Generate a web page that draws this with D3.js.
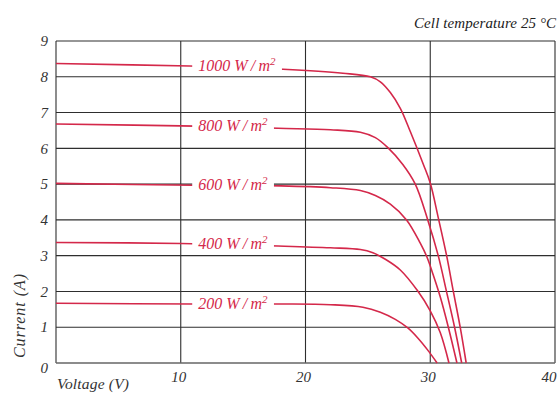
<!DOCTYPE html>
<html>
<head>
<meta charset="utf-8">
<script src="https://cdn.jsdelivr.net/npm/d3@7/dist/d3.min.js"></script>
<style>
  body { margin: 0; background: #fff; }
  text { font-family: "Liberation Serif", "DejaVu Serif", serif; font-style: italic; }
</style>
</head>
<body>
<svg id="chart" width="560" height="394"></svg>
<script>
// tick values
const voltageTicks = [0, 10, 20, 30, 40];
const currentTicks = [0, 1, 2, 3, 4, 5, 6, 7, 8, 9];

// irradiance levels (W/m2)
const irradiance = [1000, 800, 600, 400, 200];

// I-V points [voltage V, current A]
const curve1000 = [[0, 8.37], [10.7, 8.3], [18.2, 8.21], [23, 8.1], [25.2, 8.0], [26, 7.86],
  [26.8, 7.56], [27.6, 7.12], [28.4, 6.47], [29.45, 5.55], [30, 5.03], [30.65, 4.05], [31.3, 3.02],
  [31.85, 2.0], [32.4, 1.0], [32.88, 0]];
const curve800 = [[0, 6.68], [11.2, 6.62], [17.8, 6.56], [22, 6.52], [24.4, 6.45], [25.6, 6.3],
  [26.6, 6.02], [27.8, 5.55], [28.8, 5.0], [29.8, 4.0], [30.64, 3.0], [31.3, 2.0], [31.95, 1.0], [32.52, 0]];
const curve600 = [[0, 5.02], [11, 4.97], [18, 4.95], [22, 4.9], [24.4, 4.82], [25.6, 4.68], [26.8, 4.44],
  [28.1, 4.0], [29.2, 3.35], [29.75, 2.95], [30.25, 2.45], [30.8, 1.85], [31.45, 1.0], [32.14, 0]];
const curve400 = [[0, 3.37], [10, 3.34], [17.8, 3.27], [22, 3.22], [24.4, 3.17], [25.4, 3.08], [26.4, 2.9],
  [27.6, 2.6], [29.0, 2.01], [30.0, 1.46], [30.8, 0.85], [31.5, 0]];
const curve200 = [[0, 1.67], [11, 1.65], [18, 1.65], [22, 1.63], [24.6, 1.56], [26.0, 1.42], [27.2, 1.22],
  [28.2, 0.98], [29.0, 0.7], [29.8, 0.36], [30.55, 0]];

const curves = [curve1000, curve800, curve600, curve400, curve200];

const svg = d3.select("#chart");
const red = "#d4284a";
const gridColor = "#2e2e2e";
const textColor = "#333";

const x = d3.scaleLinear().domain([0, 40]).range([56, 555]);
const y = d3.scaleLinear().domain([0, 9]).range([363, 41]);

// grid
svg.append("g")
  .selectAll("line")
  .data(voltageTicks)
  .enter()
  .append("line")
  .attr("x1", d => x(d)).attr("x2", d => x(d))
  .attr("y1", y(0)).attr("y2", y(9))
  .attr("stroke", gridColor).attr("stroke-width", 1.1);

svg.append("g")
  .selectAll("line")
  .data(currentTicks)
  .enter()
  .append("line")
  .attr("x1", x(0)).attr("x2", x(40))
  .attr("y1", d => y(d)).attr("y2", d => y(d))
  .attr("stroke", d => d === 0 ? "#666" : gridColor)
  .attr("stroke-width", d => d === 0 ? 1.6 : 1.1);

// tick labels
svg.append("g")
  .selectAll("text")
  .data(currentTicks)
  .enter()
  .append("text")
  .attr("x", 48)
  .attr("y", d => y(d) + (d === 0 ? 5 : 0))
  .attr("dy", "0.35em")
  .attr("text-anchor", "end")
  .attr("font-size", 15)
  .attr("fill", textColor)
  .text(d => d);

svg.append("g")
  .selectAll("text")
  .data(voltageTicks.filter(d => d > 0))
  .enter()
  .append("text")
  .attr("x", d => d === 40 ? x(d) - 6 : x(d) - 2)
  .attr("y", 382)
  .attr("text-anchor", "middle")
  .attr("font-size", 15)
  .attr("fill", textColor)
  .text(d => d);

// axis titles
svg.append("text")
  .attr("x", 57).attr("y", 389)
  .attr("font-size", 15.5)
  .attr("textLength", 72)
  .attr("fill", textColor)
  .text("Voltage (V)");

svg.append("text")
  .attr("transform", "translate(25,358) rotate(-90)")
  .attr("font-size", 16)
  .attr("textLength", 84)
  .attr("fill", textColor)
  .text("Current (A)");

svg.append("text")
  .attr("x", 556).attr("y", 28)
  .attr("text-anchor", "end")
  .attr("font-size", 15)
  .attr("textLength", 142)
  .attr("fill", "#222")
  .text("Cell temperature 25 °C");

// curves
const line = d3.line()
  .x(d => x(d[0]))
  .y(d => y(d[1]))
  .curve(d3.curveCatmullRom.alpha(0.5));

svg.append("g")
  .selectAll("path")
  .data(curves)
  .enter()
  .append("path")
  .attr("d", line)
  .attr("fill", "none")
  .attr("stroke", red)
  .attr("stroke-width", 1.6);

// curve labels on a white patch that breaks the line
const labelV = 11.4;
function currentAt(pts, v) {
  const i = d3.bisector(d => d[0]).right(pts, v);
  const a = pts[i - 1], b = pts[i];
  return a[1] + (b[1] - a[1]) * (v - a[0]) / (b[0] - a[0]);
}

irradiance.forEach((g, k) => {
  const ly = y(currentAt(curves[k], labelV));
  const grp = svg.append("g");
  const rect = grp.append("rect").attr("fill", "#fff");
  const t = grp.append("text")
    .attr("x", x(labelV))
    .attr("y", ly + 5)
    .attr("font-size", 16)
    .attr("fill", red);
  t.append("tspan").text(g + " W\u2009/\u2009m");
  t.append("tspan").attr("dy", -6).attr("font-size", 11).text("2");
  const bb = t.node().getBBox();
  rect.attr("x", bb.x - 6).attr("width", bb.width + 12)
    .attr("y", ly - 4).attr("height", 8);
});
</script>
</body>
</html>
